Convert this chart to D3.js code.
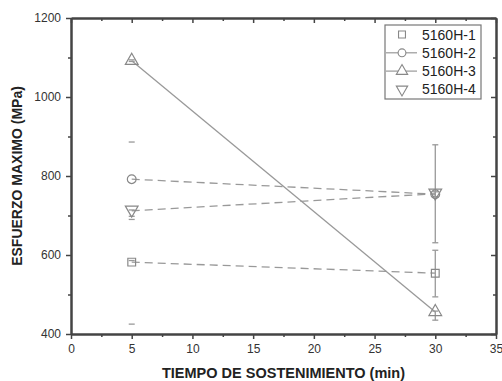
<!DOCTYPE html>
<html>
<head>
<meta charset="utf-8">
<script src="https://cdn.jsdelivr.net/npm/d3@7"></script>
<style>
  body { margin: 0; background: #fff; }
  text { font-family: Arial, "Liberation Sans", sans-serif; }
</style>
</head>
<body>
<script>
// data
var times = [5, 30];
var seriesNames = ['5160H-1', '5160H-2', '5160H-3', '5160H-4'];
var h1 = [582, 554];
var h2 = [792, 754];
var h3 = [1092, 456];
var h4 = [712, 755];
// error bar ends [low, high]
var h1Err = [[425, 586], [494, 612]];
var h2Err = [[698, 886], [631, 879]];
var h3Err = [[1090, 1094], [435, 458]];
var h4Err = [[690, 714], [748, 760]];
var stemShown = [false, true]; // at 5 min only the caps show
var xTicks = [0, 5, 10, 15, 20, 25, 30, 35];
var yTicks = [400, 600, 800, 1000, 1200];

var width = 502, height = 381;
var m = {left: 71, right: 6, top: 18, bottom: 47};

var svg = d3.select('body').append('svg')
  .attr('width', width)
  .attr('height', height);

var x = d3.scaleLinear().domain([0, 35]).range([m.left, width - m.right]);
var y = d3.scaleLinear().domain([400, 1200]).range([height - m.bottom, m.top]);

var axisColor = '#444';
var lineColor = '#999';
var markColor = '#888';
var xMinor = [2.5, 7.5, 12.5, 17.5, 22.5, 27.5, 32.5];
var yMinor = [500, 700, 900, 1100];

// axes
svg.append('g').attr('transform', 'translate(0,' + y(400) + ')')
  .call(d3.axisBottom(x).tickValues(xTicks).tickSize(5).tickSizeOuter(0).tickPadding(5).tickFormat(d3.format('d')));
svg.append('g').attr('transform', 'translate(0,' + y(400) + ')')
  .call(d3.axisBottom(x).tickValues(xMinor).tickSize(3).tickSizeOuter(0).tickFormat(''));
svg.append('g').attr('transform', 'translate(0,' + y(1200) + ')')
  .call(d3.axisBottom(x).tickValues(xTicks).tickSize(5).tickSizeOuter(0).tickFormat(''));
svg.append('g').attr('transform', 'translate(0,' + y(1200) + ')')
  .call(d3.axisBottom(x).tickValues(xMinor).tickSize(3).tickSizeOuter(0).tickFormat(''));
svg.append('g').attr('transform', 'translate(' + x(0) + ',0)')
  .call(d3.axisLeft(y).tickValues(yTicks).tickSize(5).tickSizeOuter(0).tickPadding(5).tickFormat(d3.format('d')));
svg.append('g').attr('transform', 'translate(' + x(0) + ',0)')
  .call(d3.axisLeft(y).tickValues(yMinor).tickSize(3).tickSizeOuter(0).tickFormat(''));
svg.append('g').attr('transform', 'translate(' + x(35) + ',0)')
  .call(d3.axisLeft(y).tickValues(yTicks).tickSize(5).tickSizeOuter(0).tickFormat(''));
svg.append('g').attr('transform', 'translate(' + x(35) + ',0)')
  .call(d3.axisLeft(y).tickValues(yMinor).tickSize(3).tickSizeOuter(0).tickFormat(''));

svg.selectAll('.domain').attr('stroke', axisColor).attr('stroke-width', 2);
svg.selectAll('.tick line').attr('stroke', axisColor).attr('stroke-width', 1.5);
svg.selectAll('.tick text').attr('fill', '#333').style('font-size', '12px')
  .style('font-family', 'Arial, "Liberation Sans", sans-serif');

// axis titles
svg.append('text')
  .attr('x', (x(0) + x(35)) / 2).attr('y', 378)
  .attr('text-anchor', 'middle')
  .style('font-size', '14.5px').style('font-weight', 'bold').attr('fill', '#222')
  .text('TIEMPO DE SOSTENIMIENTO (min)');
svg.append('text')
  .attr('transform', 'translate(22,' + ((y(400) + y(1200)) / 2) + ') rotate(-90)')
  .attr('text-anchor', 'middle')
  .style('font-size', '14px').style('font-weight', 'bold').attr('fill', '#222')
  .text('ESFUERZO MAXIMO (MPa)');

var allVals = [h1, h2, h3, h4];
var allErr = [h1Err, h2Err, h3Err, h4Err];
var dashes = ['8,5', '8,5', null, '8,5'];
var shapes = [d3.symbolSquare, d3.symbolCircle, d3.symbolTriangle, d3.symbolTriangle];
var sizes = [60, 60, 70, 70];
var rotations = [0, 0, 0, 180];

// error bars
allErr.forEach(function(errs) {
  errs.forEach(function(e, i) {
    var cx = x(times[i]);
    if (stemShown[i]) {
      svg.append('line')
        .attr('x1', cx).attr('x2', cx)
        .attr('y1', y(e[0])).attr('y2', y(e[1]))
        .attr('stroke', lineColor).attr('stroke-width', 1.3);
    }
    e.forEach(function(v) {
      svg.append('line')
        .attr('x1', cx - 3).attr('x2', cx + 3)
        .attr('y1', y(v)).attr('y2', y(v))
        .attr('stroke', lineColor).attr('stroke-width', 1.3);
    });
  });
});

var line = d3.line()
  .x(function(d, i) { return x(times[i]); })
  .y(function(d) { return y(d); });

allVals.forEach(function(vals, k) {
  svg.append('path')
    .datum(vals)
    .attr('d', line)
    .attr('fill', 'none')
    .attr('stroke', lineColor)
    .attr('stroke-width', 1.3)
    .attr('stroke-dasharray', dashes[k]);
  vals.forEach(function(v, i) {
    svg.append('path')
      .attr('d', d3.symbol().type(shapes[k]).size(sizes[k]))
      .attr('transform', 'translate(' + x(times[i]) + ',' + (y(v) + (k == 3 ? -1 : 0)) + ') rotate(' + rotations[k] + ')')
      .attr('fill', 'none')
      .attr('stroke', markColor)
      .attr('stroke-width', 1.2);
  });
});

// legend
var lg = svg.append('g').attr('transform', 'translate(385,25)');
lg.append('rect')
  .attr('width', 96).attr('height', 74)
  .attr('fill', '#fff').attr('stroke', '#777').attr('stroke-width', 1.2);
var legendLine = [false, true, true, false];
seriesNames.forEach(function(name, k) {
  var ly = 9.5 + k * 18.3;
  if (legendLine[k]) {
    lg.append('line')
      .attr('x1', 1).attr('x2', 32)
      .attr('y1', ly).attr('y2', ly)
      .attr('stroke', lineColor).attr('stroke-width', 1.2);
  }
  lg.append('path')
    .attr('d', d3.symbol().type(shapes[k]).size(sizes[k] * 0.8))
    .attr('transform', 'translate(17,' + ly + ') rotate(' + rotations[k] + ')')
    .attr('fill', '#fff')
    .attr('stroke', markColor)
    .attr('stroke-width', 1.1);
  lg.append('text')
    .attr('x', 37).attr('y', ly + 5)
    .style('font-size', '14px').attr('fill', '#222')
    .text(name);
});
</script>
</body>
</html>
